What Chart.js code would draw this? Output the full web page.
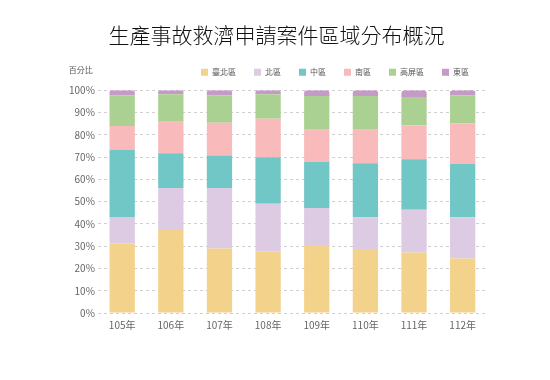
<!DOCTYPE html>
<html>
<head>
<meta charset="utf-8">
<script src="https://cdn.jsdelivr.net/npm/chart.js@4/dist/chart.umd.min.js"></script>
<style>
  html, body { margin: 0; padding: 0; background: #fff; }
  #wrap { width: 550px; height: 380px; position: relative; }
</style>
</head>
<body>
<div id="wrap"><canvas id="c"></canvas></div>
<script>
// years (ROC calendar) and share of applications per region, in %
const years = ['105年', '106年', '107年', '108年', '109年', '110年', '111年', '112年'];
const regionNames = ['臺北區', '北區', '中區', '南區', '高屏區', '東區'];

const taipei   = [31.3, 37.3, 29.0, 27.5, 30.5, 28.3, 27.2, 24.5];
const north    = [11.6, 18.8, 27.1, 21.5, 16.6, 14.7, 19.1, 18.5];
const central  = [30.3, 15.6, 14.6, 20.9, 20.7, 24.2, 22.7, 23.9];
const south    = [10.7, 14.5, 14.7, 17.3, 14.5, 15.1, 15.2, 18.2];
const kaoping  = [13.8, 12.0, 12.3, 11.0, 15.1, 15.1, 12.7, 12.6];
const east     = [2.3, 1.8, 2.3, 1.8, 2.6, 2.6, 3.1, 2.3];

const yTicks = [0, 10, 20, 30, 40, 50, 60, 70, 80, 90, 100];

const COLORS = ['#f3d28b', '#dccbe3', '#71c6c6', '#f8baba', '#abd192', '#c59ac6'];
const FONT = '"Noto Sans CJK TC", "Noto Sans", sans-serif';

const seriesList = [taipei, north, central, south, kaoping, east];

// "百分比" label above the y axis
const unitLabel = {
  id: 'unitLabel',
  afterDraw(chart) {
    const { ctx, chartArea } = chart;
    ctx.save();
    ctx.font = '8px ' + FONT;
    ctx.fillStyle = '#555';
    ctx.textAlign = 'left';
    ctx.textBaseline = 'middle';
    ctx.fillText('百分比', chartArea.left - 29, chartArea.top - 20);
    ctx.restore();
  }
};

// tighter legend box height, legend drawn a little higher
const legendTweak = {
  id: 'legendTweak',
  beforeInit(chart) {
    const lg = chart.legend;
    const fit = lg.fit;
    lg.fit = function () {
      fit.bind(this)();
      this.height -= 1;
    };
    const draw = lg.draw;
    lg.draw = function (...args) {
      const ctx = this.ctx;
      ctx.save();
      ctx.translate(0, -5);
      draw.apply(this, args);
      ctx.restore();
    };
  }
};

new Chart(document.getElementById('c'), {
  type: 'bar',
  data: {
    labels: years,
    datasets: seriesList.map((d, i) => ({
      label: regionNames[i],
      data: d,
      backgroundColor: COLORS[i],
      borderWidth: 0,
      borderSkipped: false,
      borderRadius: i === seriesList.length - 1
        ? { topLeft: 6, topRight: 6, bottomLeft: 0, bottomRight: 0 }
        : 0,
      barPercentage: 0.52,
      categoryPercentage: 1.0,
    })),
  },
  options: {
    responsive: true,
    maintainAspectRatio: false,
    animation: false,
    layout: { padding: { left: 66, right: 63, top: 10, bottom: 43 } },
    plugins: {
      title: {
        display: true,
        text: '生產事故救濟申請案件區域分布概況',
        color: '#111',
        font: { family: FONT, size: 21, weight: 300 },
        padding: { top: 12, bottom: 8 },
      },
      legend: {
        align: 'end',
        labels: {
          boxWidth: 7,
          boxHeight: 7,
          color: '#555',
          padding: 18,
          font: { family: FONT, size: 8 },
        },
      },
      tooltip: { enabled: false },
    },
    scales: {
      x: {
        stacked: true,
        grid: { display: false, drawTicks: false },
        border: { display: false },
        ticks: { color: '#666', font: { family: FONT, size: 10 }, padding: 6 },
      },
      y: {
        stacked: true,
        min: 0,
        max: 100,
        afterBuildTicks(axis) { axis.ticks = yTicks.map(v => ({ value: v })); },
        grid: { color: '#cfcfcf', drawTicks: false },
        border: { display: false, dash: [3, 3] },
        ticks: {
          color: '#666',
          padding: 3,
          font: { family: FONT, size: 10 },
          callback: v => v + '%',
        },
      },
    },
  },
  plugins: [unitLabel, legendTweak],
});
</script>
</body>
</html>
